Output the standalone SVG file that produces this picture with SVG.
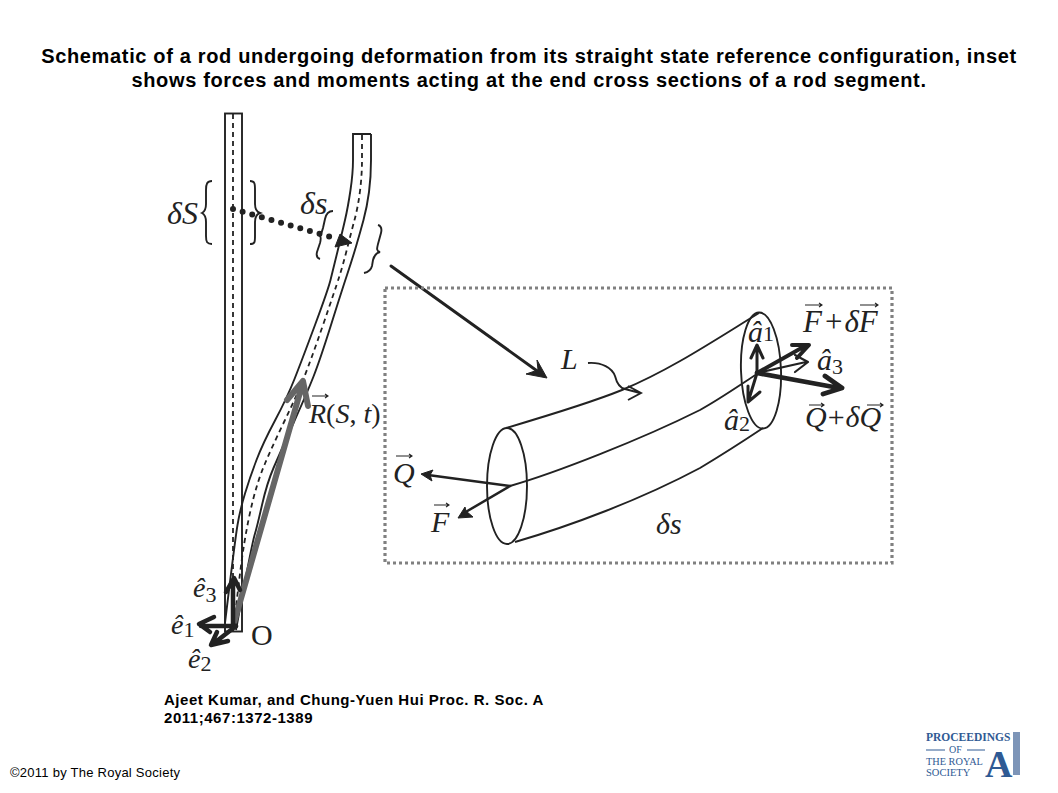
<svg xmlns="http://www.w3.org/2000/svg" width="1058" height="793" viewBox="0 0 1058 793">
<style>
.t{font-family:"Liberation Sans",Arial,sans-serif;fill:#000}
.title{font-size:20px;font-weight:bold;text-anchor:middle;letter-spacing:.66px}
.cap{font-size:15px;font-weight:bold;letter-spacing:.54px}
.m{font-family:"Liberation Serif","Times New Roman",serif;fill:#222;font-size:30px}
.e{font-size:28px}
.i{font-style:italic}
.sub{font-size:22px}
.l{fill:none;stroke:#222;stroke-width:1.9}
.d{fill:none;stroke:#222;stroke-width:1.8;stroke-dasharray:5 4}
.a{fill:none;stroke:#222;stroke-linecap:round;stroke-linejoin:round}
.h{fill:#222;stroke:#222;stroke-width:1;stroke-linejoin:round}
.v{fill:none;stroke:#222;stroke-width:1.1}
.logo{font-family:"Liberation Serif",serif;fill:#2f5a94}
</style>
<rect width="1058" height="793" fill="#fff"/>
<g id="title">
<text class="t title" x="529" y="63">Schematic of a rod undergoing deformation from its straight state reference configuration, inset</text>
<text class="t title" x="529" y="87">shows forces and moments acting at the end cross sections of a rod segment.</text>
</g>
<g id="straight-rod">
<rect class="l" x="225" y="113.500" width="17" height="518"/>
<path class="d" d="M233 114V631"/>
</g>
<g id="bent-rod">
<path class="l" d="M371 134L371 160Q371 177 369 192Q367 207 363.500 220Q360 233 356 246.500Q352 260 347 275Q342 290 331 325Q320 360 313.500 376.500Q307 393 293.500 423Q280 453 273.500 468Q267 483 262 505Q257 527 255 533.500Q253 540 247.500 568.500Q242 597 236 630"/>
<path class="l" d="M371 134H353L353 160Q353 173 350.500 190Q348 207 345 220Q342 233 337.500 251.500Q333 270 330.500 280Q328 290 315 325Q302 360 294.500 379Q287 398 275 420.500Q263 443 256.500 460Q250 477 245 493.500Q240 510 237.500 525Q235 540 225 623"/>
<path class="d" d="M362 135L362 160Q362 175 360 191Q358 207 354.500 220Q351 233 347 249Q343 265 339 277.500Q335 290 323 325Q311 360 304 377.500Q297 395 284.500 421Q272 447 265 463.500Q258 480 253 500Q248 520 244 545Q240 570 235 617"/>
</g>
<g id="connectors">
<path id="dotted-map" fill="none" stroke="#222" stroke-width="6" stroke-linecap="round" stroke-dasharray="0 10" d="M233 209L334 238"/>
<path class="h" d="M352 243L340 234L335 247Z"/>
<path id="brace-S-left" class="l" d="M212 181C207 181 206 184 206 190V204C206 210 204 212 202 213C204 214 206 216 206 222V236C206 242 207 244 212 244"/>
<path id="brace-S-right" class="l" d="M250 181C255 181 255 184 255 190V204C255 210 257 212 260 213C257 214 255 216 255 222V236C255 242 255 244 250 244"/>
<path id="brace-s-left" class="l" d="M333 211C328 211 326 214 325 219L323 228C322 232 321 234 320 236C321 237 321 239 320 243L317 252C316 256 317 258 320 259"/>
<path id="brace-s-right" class="l" d="M378 225C381 226 382 229 381 233L378 244C377 248 376 251 380 252C376 253 374 256 373 260L372 266C371 270 369 272 364 273"/>
<path id="zoom-arrow" class="a" stroke-width="3" d="M391 266L540 373"/>
<path class="h" d="M547 378L537 360L538 370L526 374Z"/>
<path id="R-arrow" fill="none" stroke="#666" stroke-width="6" stroke-linecap="round" stroke-linejoin="round" d="M234 623L303 382M287 400L303 381L308 406"/>
<path id="e3-arrow" class="a" stroke-width="4.500" d="M233 625V580M226 592L234 578L240 590"/>
<path id="e1-arrow" class="a" stroke-width="4.500" d="M236 626H201M214 617L199 624L210 632"/>
<path id="e2-arrow" class="a" stroke-width="4.500" d="M236 626L213 644M217 632L211 645L228 641"/>
</g>
<g id="inset">
<rect x="385" y="288" width="507" height="275" fill="none" stroke="#808080" stroke-width="3.200" stroke-dasharray="3 3"/>
<g id="cylinder">
<ellipse class="l" cx="507" cy="486" rx="20" ry="58"/>
<ellipse class="l" cx="761" cy="370.500" rx="20" ry="58" transform="rotate(-2 761 370.500)"/>
<path class="l" d="M506 428C550 415 590 403 622 390C670 370 715 340 759 313"/>
<path class="l" d="M510 486C555 473 640 440 700 410C720 399 740 385 757 374"/>
<path class="l" d="M515 542C570 526 640 500 700 468C720 456 745 440 763 428"/>
<path class="l" d="M588 363C602 362 612 368 615 376C617 384 620 388 625 389L640 393M628 386L641 393L628 400"/>
</g>
<g id="force-arrows">
<path class="a" stroke-width="2.500" d="M510 486L428 475"/>
<path class="h" d="M421 474L433 470L430 475L432 481Z"/>
<path class="a" stroke-width="2.500" d="M510 486L464 513"/>
<path class="h" d="M458 518L465 507L466 511L473 517Z"/>
<path class="a" stroke-width="4" d="M757 373L805 346M792 345L809 345L797 358"/>
<path class="a" stroke-width="2.200" d="M757 373L806 362M795 355L808 362L795 372"/>
<path class="a" stroke-width="4.800" d="M757 373L839 388M825 376L842 388L823 394"/>
<path class="a" stroke-width="3" d="M757 373V347M751 358L757 345L763 358"/>
<path class="a" stroke-width="3" d="M757 373L749 399M748 386L748 402L760 392"/>
</g>
</g>
<g id="labels">
<text class="m i" x="167" y="224" style="font-size:32px">δS</text>
<text class="m i" x="300" y="214" style="font-size:32px">δs</text>
<text class="m i" x="309" y="423" style="font-size:28px">R<tspan font-style="normal">(</tspan>S<tspan font-style="normal">,</tspan> t<tspan font-style="normal">)</tspan></text>
<path class="v" d="M312 396H328M325 394L328 396L325 398"/>
<text class="m" x="251" y="645">O</text>
<text class="m i e" x="193" y="597">ê<tspan class="sub" font-style="normal" dy="5">3</tspan></text>
<text class="m i e" x="171" y="634">ê<tspan class="sub" font-style="normal" dy="3">1</tspan></text>
<text class="m i e" x="188" y="668">ê<tspan class="sub" font-style="normal" dy="3">2</tspan></text>
<text class="m i" x="561" y="369">L</text>
<text class="m i" x="656" y="534">δs</text>
<text class="m i" x="393" y="483">Q</text>
<path class="v" d="M396 456H412M409 454L412 456L409 458"/>
<text class="m i" x="431" y="532">F</text>
<path class="v" d="M434 505H449M446 503L449 505L446 507"/>
<text class="m i" x="748" y="342">â<tspan class="sub" font-style="normal" dy="-1">1</tspan></text>
<text class="m i" x="817" y="370">â<tspan class="sub" font-style="normal" dy="4">3</tspan></text>
<text class="m i" x="724" y="430">â<tspan class="sub" font-style="normal" dy="1">2</tspan></text>
<text class="m i" x="803" y="332" style="font-size:31px">F<tspan font-style="normal" dx="3">+</tspan><tspan dx="2">δF</tspan></text>
<path class="v" d="M805 305H822M819 303L822 305L819 307M860 305H878M875 303L878 305L875 307"/>
<text class="m i" x="805" y="427">Q<tspan font-style="normal" dx="1">+</tspan><tspan dx="1">δQ</tspan></text>
<path class="v" d="M809 405H824M821 403L824 405L821 407M867 405H883M880 403L883 405L880 407"/>
</g>
<g id="citation">
<text class="t cap" x="164" y="705">Ajeet Kumar, and Chung-Yuen Hui Proc. R. Soc. A</text>
<text class="t cap" x="164" y="723">2011;467:1372-1389</text>
<text class="t" x="10" y="777" font-size="13" letter-spacing=".25">©2011 by The Royal Society</text>
</g>
<g id="logo">
<text class="logo" x="926" y="741" font-size="11.500" font-weight="bold">PROCEEDINGS</text>
<path d="M926 750H945M967 750H985" stroke="#2f5a94" stroke-width="1"/>
<text class="logo" x="949" y="753" font-size="10">OF</text>
<text class="logo" x="926" y="765" font-size="10.300">THE ROYAL</text>
<text class="logo" x="926" y="776" font-size="10.500">SOCIETY</text>
<text class="logo" x="985" y="777" font-size="38" font-weight="bold">A</text>
<rect x="1013" y="732" width="7" height="43" fill="#7d95b8"/>
</g>
</svg>
